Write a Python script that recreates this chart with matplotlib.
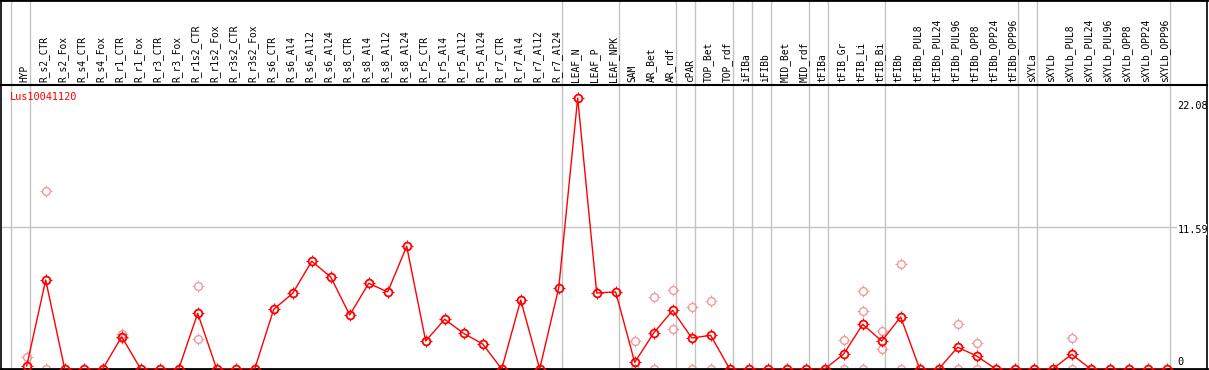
import numpy as np
import matplotlib
matplotlib.use("Agg")
import matplotlib.pyplot as plt
from matplotlib.path import Path
from matplotlib.transforms import blended_transform_factory, ScaledTranslation

# ---------------- data ----------------
samples = ["HYP",
           "R_s2_CTR", "R_s2_Fox", "R_s4_CTR", "R_s4_Fox", "R_r1_CTR", "R_r1_Fox",
           "R_r3_CTR", "R_r3_Fox", "R_r1s2_CTR", "R_r1s2_Fox", "R_r3s2_CTR", "R_r3s2_Fox",
           "R_s6_CTR", "R_s6_Al4", "R_s6_Al12", "R_s6_Al24",
           "R_s8_CTR", "R_s8_Al4", "R_s8_Al12", "R_s8_Al24",
           "R_r5_CTR", "R_r5_Al4", "R_r5_Al12", "R_r5_Al24",
           "R_r7_CTR", "R_r7_Al4", "R_r7_Al12", "R_r7_Al24",
           "LEAF_N", "LEAF_P", "LEAF_NPK",
           "SAM", "AR_Bet", "AR_rdf",
           "cPAR",
           "TOP_Bet", "TOP_rdf",
           "iFIBa",
           "iFIBb",
           "MID_Bet", "MID_rdf",
           "tFIBa",
           "tFIB_Gr", "tFIB_Li", "tFIB_Bi",
           "tFIBb", "tFIBb_PUL8", "tFIBb_PUL24", "tFIBb_PUL96", "tFIBb_OPP8", "tFIBb_OPP24", "tFIBb_OPP96",
           "sXYLa",
           "sXYLb", "sXYLb_PUL8", "sXYLb_PUL24", "sXYLb_PUL96", "sXYLb_OPP8", "sXYLb_OPP24", "sXYLb_OPP96"]

group_sizes = [1, 28, 3, 3, 1, 2, 1, 1, 2, 1, 3, 7, 1, 7]

mean_expr = [0.24,
             7.25, 0, 0, 0, 2.63, 0, 0, 0, 4.54, 0, 0, 0,
             4.86, 6.17, 8.78, 7.5,
             4.4, 6.98, 6.28, 10.0,
             2.28, 4.05, 2.9, 2.04,
             0, 5.62, 0, 6.6,
             22.08, 6.19, 6.28,
             0.54, 2.93, 4.78,
             2.53,
             2.74, 0,
             0,
             0,
             0, 0,
             0,
             1.22, 3.64, 2.28,
             4.24, 0, 0, 1.77, 1.06, 0, 0,
             0,
             0, 1.2, 0, 0, 0, 0, 0]

nan = np.nan
rep_a = [1.0,
         14.5, nan, nan, nan, 2.85, nan, nan, nan, 6.76, nan, nan, nan,
         nan, nan, nan, nan, nan, nan, nan, nan, nan, nan, nan, nan, nan, nan, nan, nan,
         nan, nan, nan,
         2.28, 5.87, 6.41,
         5.03,
         5.54, nan,
         nan, nan, nan, nan, nan,
         2.36, 6.33, 3.07,
         8.56, nan, nan, 3.67, 2.12, nan, nan,
         nan,
         nan, 2.5, nan, nan, nan, nan, nan]
rep_b = [nan,
         0, nan, nan, nan, 2.5, nan, nan, nan, 2.45, nan, nan, nan,
         nan, nan, nan, nan, nan, nan, nan, nan, nan, nan, nan, nan, nan, nan, nan, nan,
         nan, nan, nan,
         0, 0, 3.23,
         0,
         0, nan,
         nan, nan, nan, nan, nan,
         0, 4.73, 1.63,
         0, nan, nan, 0, 0, nan, nan,
         nan,
         nan, 0, nan, nan, nan, nan, nan]
rep_c = [nan] * 44 + [0] + [nan] * 16

title = "Lus10041120"
y_ticks = [22.08, 11.59, 0]
y_tick_labels = ["22.08", "11.59", "0"]

# ---------------- style ----------------
W, H = 1209, 370
DPI = 100
RED = "#ff0000"
LIGHT = "#f09a9a"
GREY = "#c4c4c4"
FONT = "DejaVu Sans Mono"

# small tick marks around circle markers
ticks = Path([(0, 0.68), (0, 1.0), (0, -0.68), (0, -1.0),
              (0.68, 0), (1.0, 0), (-0.68, 0), (-1.0, 0)],
             [Path.MOVETO, Path.LINETO] * 4)
TICK_MS = 8.6
CIRC_MS = 5.6

fig = plt.figure(figsize=(W / DPI, H / DPI), dpi=DPI)

def frac_x(p):
    return p / W

def frac_y(p_from_top):
    return (H - p_from_top) / H

x_left, x_right = 1, 1207
plot_top, plot_bot = 85, 369
col0, step = 26.7, 19.0
px_per_unit = (plot_bot - 98) / 22.08

xlim = ((x_left - col0) / step, (x_right - col0) / step)
ylim = (0, (plot_bot - plot_top) / px_per_unit)

ax = fig.add_axes([frac_x(x_left), frac_y(plot_bot),
                   frac_x(x_right - x_left), (plot_bot - plot_top) / H])
axl = fig.add_axes([frac_x(x_left), frac_y(plot_top - 0.5),
                    frac_x(x_right - x_left), (plot_top - 0.5) / H], sharex=ax)

n = len(samples)
xs = np.arange(n)

for a in (ax, axl):
    a.set_xlim(*xlim)
    a.set_xticks([])
    a.set_yticks([])
    for s in a.spines.values():
        s.set_color("black")
        s.set_linewidth(1.2)
ax.set_ylim(*ylim)
axl.set_ylim(0, 1)
axl.spines["top"].set_linewidth(2.0)
ax.spines["bottom"].set_linewidth(2.0)
axl.spines["bottom"].set_linewidth(1.5)

# group separators
ends = np.cumsum(group_sizes) - 1
sep = [-1] + list(ends)
off = 3.3 / step
for e in sep:
    for a in (ax, axl):
        a.axvline(e + off, color=GREY, lw=1.0, zorder=1)

# mid horizontal grid line
ax.axhline(y_ticks[1], color=GREY, lw=1.0, zorder=1)

def draw_markers(yvals, color, mew, z):
    ax.plot(xs, yvals, linestyle="none", marker="o", markersize=CIRC_MS,
            markerfacecolor="none", markeredgecolor=color, markeredgewidth=mew,
            zorder=z)
    ax.plot(xs, yvals, linestyle="none", marker=ticks, markersize=TICK_MS,
            markerfacecolor="none", markeredgecolor=color, markeredgewidth=0.8,
            zorder=z)

# replicates
for rep in (rep_a, rep_b, rep_c):
    draw_markers(rep, LIGHT, 1.0, 2)

# mean line
ax.plot(xs, mean_expr, color=RED, lw=1.0, zorder=3)
draw_markers(mean_expr, RED, 1.3, 3)

# sample labels
for i, lab in enumerate(samples):
    axl.text(i - 2.0 / step, 0.03, lab, rotation=90, ha="center", va="bottom",
             fontsize=6.9, family=FONT, color="black")

# title
ax.text((10 - x_left) / (x_right - x_left), (plot_bot - 97) / (plot_bot - plot_top),
        title, transform=ax.transAxes, ha="left", va="center",
        fontsize=7.4, family=FONT, color=RED)

# right value labels
tb = blended_transform_factory(ax.transAxes, ax.transData)
offsets_px = [-8, -3, 7]
for v, lab, dy in zip(y_ticks, y_tick_labels, offsets_px):
    tr = tb + ScaledTranslation(0, dy / DPI, fig.dpi_scale_trans)
    t = ax.text((1177.5 - x_left) / (x_right - x_left), v, lab, transform=tr,
                ha="left", va="center", fontsize=7.4, family=FONT, color="black",
                zorder=5)
    t.set_clip_on(True)
    if lab == "11.59":
        t.set_bbox(dict(facecolor="white", edgecolor="none", pad=0.3))

fig.savefig("out.png", dpi=DPI)
